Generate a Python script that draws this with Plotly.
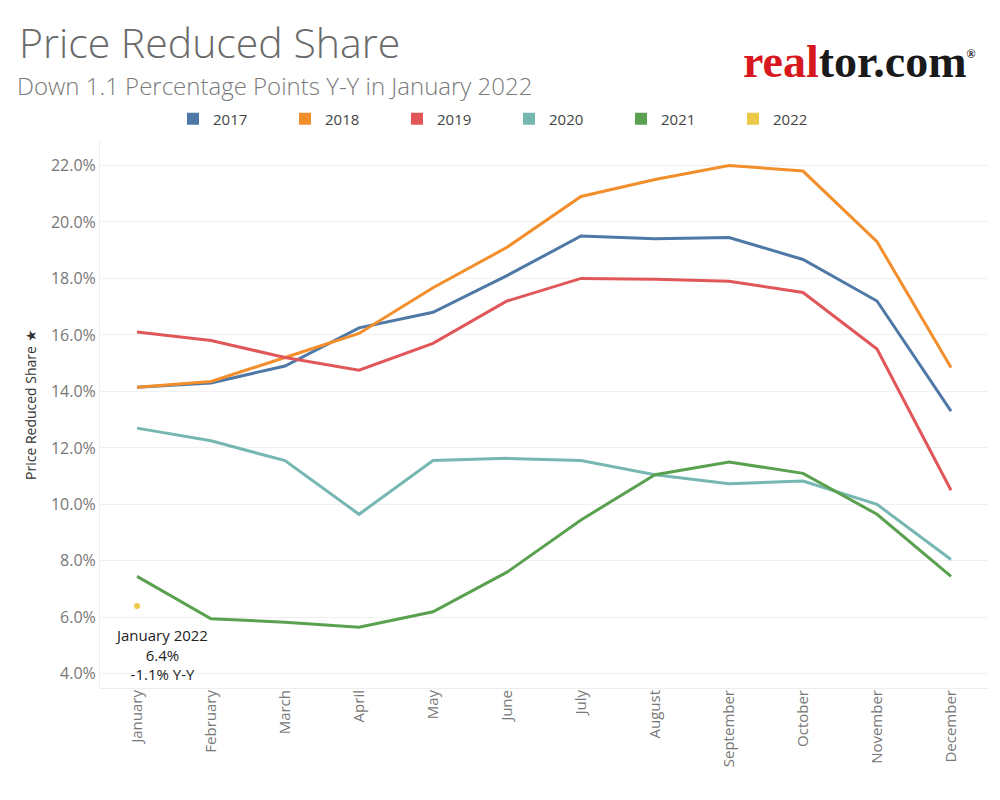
import plotly.graph_objects as go

months = ["January", "February", "March", "April", "May", "June", "July",
          "August", "September", "October", "November", "December"]

y2017 = [14.15, 14.3, 14.9, 16.25, 16.8, 18.1, 19.5, 19.4, 19.45, 18.67, 17.2, 13.3]
y2018 = [14.15, 14.35, 15.2, 16.05, 17.67, 19.1, 20.9, 21.5, 22.0, 21.8, 19.3, 14.85]
y2019 = [16.1, 15.8, 15.2, 14.75, 15.7, 17.2, 18.0, 17.97, 17.9, 17.5, 15.5, 10.5]
y2020 = [12.7, 12.25, 11.55, 9.65, 11.55, 11.63, 11.55, 11.05, 10.73, 10.83, 10.0, 8.05]
y2021 = [7.45, 5.95, 5.83, 5.65, 6.2, 7.6, 9.45, 11.05, 11.5, 11.1, 9.65, 7.45]
y2022 = [6.4]

ytick_vals = [4, 6, 8, 10, 12, 14, 16, 18, 20, 22]
ytick_text = [f"{v:.1f}%" for v in ytick_vals]

series = [
    ("2017", y2017, "#4e79a7"),
    ("2018", y2018, "#f28e2b"),
    ("2019", y2019, "#e15759"),
    ("2020", y2020, "#76b7b2"),
    ("2021", y2021, "#59a14f"),
    ("2022", y2022, "#edc948"),
]

W, H = 1000, 800
OFF = 8  # page offset of the figure (body margin)
L, R, T, B = 92, 20, 132, 120
PW, PH = W - L - R, H - T - B


def px(x, y):
    """page pixel -> paper coords of the plot area"""
    x, y = x - OFF, y - OFF
    return (x - L) / PW, (H - B - y) / PH


fig = go.Figure()
for name, vals, color in series:
    if len(vals) > 1:
        fig.add_trace(go.Scatter(x=months[:len(vals)], y=vals, mode="lines",
                                 line=dict(color=color, width=3), name=name,
                                 showlegend=False, hoverinfo="skip"))
    else:
        fig.add_trace(go.Scatter(x=months[:len(vals)], y=vals, mode="markers",
                                 marker=dict(color=color, size=6), name=name,
                                 showlegend=False))
    fig.add_trace(go.Scatter(x=[None], y=[None], mode="markers",
                             marker=dict(symbol="square", size=15, color=color),
                             name=name, showlegend=True))

fig.add_annotation(x=months[0], y=y2022[0], xref="x", yref="y",
                   text="January 2022<br>6.4%<br>-1.1% Y-Y", showarrow=False,
                   xshift=24, yshift=-48, align="center",
                   font=dict(family="Open Sans", size=15, color="#222222"))

x, y = px(17, 42)
fig.add_annotation(x=x, y=y, xref="paper", yref="paper", xanchor="left", yanchor="middle",
                   text="Price Reduced Share", showarrow=False,
                   font=dict(family="Open Sans", size=41, color="#6a6a6a", weight=300))
x, y = px(15, 85)
fig.add_annotation(x=x, y=y, xref="paper", yref="paper", xanchor="left", yanchor="middle",
                   text="Down 1.1 Percentage Points Y-Y in January 2022", showarrow=False,
                   font=dict(family="Open Sans", size=24, color="#7a7a7a", weight=300))
x, y = px(978, 62)
fig.add_annotation(x=x, y=y, xref="paper", yref="paper", xanchor="right", yanchor="middle",
                   text="<span style='color:#d7191f'>real</span>tor.com"
                        "<sup><span style='font-size:12px'>®</span></sup>",
                   showarrow=False,
                   font=dict(family="Liberation Serif", size=46, color="#1a1a1a", weight="bold"))
x, y = px(30, 405)
fig.add_annotation(x=x, y=y, xref="paper", yref="paper", xanchor="center", yanchor="middle",
                   text="Price Reduced Share \u2605", textangle=-90, showarrow=False,
                   font=dict(family="Open Sans", size=14, color="#333333"))

fig.update_layout(
    width=W, height=H,
    margin=dict(l=L, r=R, t=T, b=B, autoexpand=False),
    paper_bgcolor="white", plot_bgcolor="white",
    legend=dict(orientation="h", x=(173 - OFF) / W, y=1 - (119 - OFF) / H,
                xanchor="left", yanchor="middle",
                xref="container", yref="container",
                entrywidth=67, entrywidthmode="pixels",
                font=dict(family="Open Sans", size=15, color="#444444"),
                itemsizing="constant"),
    xaxis=dict(type="category", categoryorder="array", categoryarray=months,
               range=[-0.5, 11.5], tickangle=-90, showgrid=False, automargin=False,
               showline=True, linecolor="#eeeeee", ticks="", ticklabelstandoff=-5,
               tickfont=dict(family="Open Sans", size=15, color="#777777")),
    yaxis=dict(range=[3.5, 22.9], tickvals=ytick_vals, ticktext=ytick_text,
               showgrid=True, gridcolor="#f0f0f0", automargin=False,
               zeroline=False, showline=True, linecolor="#eeeeee", ticks="",
               tickfont=dict(family="Open Sans", size=16, color="#777777")),
)

fig.write_html("out.html")
